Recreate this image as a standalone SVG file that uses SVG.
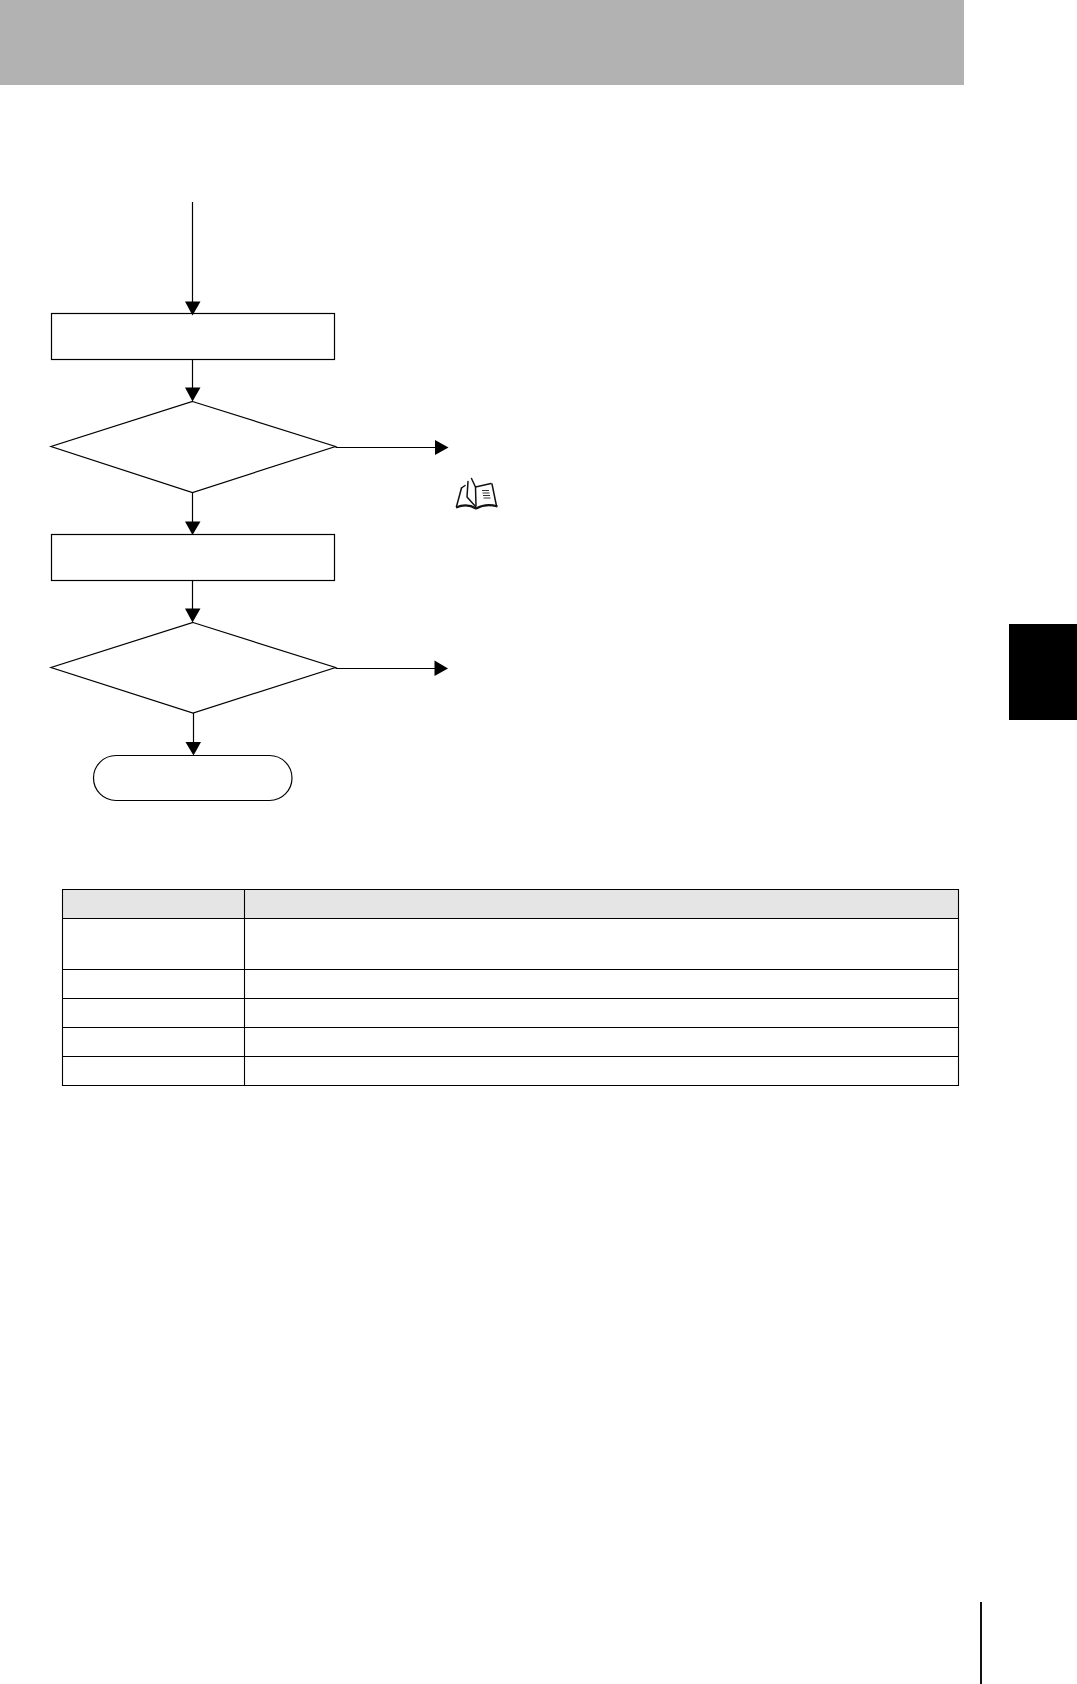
<svg xmlns="http://www.w3.org/2000/svg" width="1077" height="1684" viewBox="0 0 1077 1684">
<style>
.n{fill:#fff;stroke:#000;stroke-width:1.2}
.c{fill:none;stroke:#000;stroke-width:1.2}
.h{fill:#000;stroke:none}
.t{stroke:#000;stroke-width:1.1;fill:none}
.b{fill:none;stroke:#111;stroke-width:1.5;stroke-linejoin:round;stroke-linecap:round}
.b2{fill:none;stroke:#111;stroke-width:2.2;stroke-linejoin:round}
</style>
<rect width="1077" height="1684" fill="#fff"/>
<rect id="header" x="0" y="0" width="964" height="85" fill="#b2b2b2"/>
<rect id="tab" x="1009" y="624" width="68" height="96" fill="#000"/>
<rect id="pageline" x="980" y="1602" width="2" height="82" fill="#111"/>
<g id="step1"><rect class="n" x="51.5" y="313.5" width="283" height="46"/></g>
<g id="decision1"><polygon class="n" points="192.5,401.5 335.5,446.5 192.5,492.5 51,446.5"/></g>
<g id="step2"><rect class="n" x="51.5" y="534.5" width="283" height="46"/></g>
<g id="decision2"><polygon class="n" points="193,622.5 335.5,667.5 193,713 51,667.5"/></g>
<g id="end"><rect class="n" x="93.5" y="755.5" width="198.5" height="45" rx="22.5" ry="22.5"/></g>
<g id="connectors">
<path class="c" d="M192.5 202V303"/><polygon class="h" points="185,301.5 200.500,301.500 192.500,315.500"/>
<path class="c" d="M192.500 359.500V389"/><polygon class="h" points="185,387.500 200.500,387.500 192.500,401.500"/>
<path class="c" d="M192.500 492.500V523"/><polygon class="h" points="185,521.500 200.500,521.500 192.500,535"/>
<path class="c" d="M192.500 580.500V610"/><polygon class="h" points="185,608.500 200.500,608.500 192.500,622.500"/>
<path class="c" d="M193.500 713V743"/><polygon class="h" points="185.500,742 201,742 193.500,755.500"/>
<path class="c" d="M335.500 447.500H436"/><polygon class="h" points="435,440 448.500,447.500 435,455"/>
<path class="c" d="M335.500 668.500H436"/><polygon class="h" points="434.500,660.500 448,668.500 434.500,676"/>
</g>
<g id="book">
<path class="b" d="M461.500 488L456.500 506.500M492 484L496.500 506"/>
<path class="b" d="M461.500 488L465 485.500"/>
<path class="b" d="M468 481.500L467 497L475.500 506.500"/>
<path class="b" d="M471.500 478.500L475.500 487L491 483.500"/>
<path class="b" d="M475.500 487L476 506"/>
<path class="b2" d="M456 507.500Q467 503 476 508.500Q486 503 497.500 506.500"/>
<path d="M482 490.500H489M482.500 493H489.500M483 495.500H490M483.500 498H490.500" fill="none" stroke="#333" stroke-width="1"/>
</g>
<g id="table">
<rect x="63" y="889.500" width="895" height="29" fill="#e5e5e5"/>
<path class="t" d="M62.500 889.500H958.500V1085.500H62.500ZM62.500 918.500H958.500M62.500 969.500H958.500M62.500 998.500H958.500M62.500 1027.500H958.500M62.500 1056.500H958.500M244.500 889.500V1085.500"/>
</g>
</svg>
